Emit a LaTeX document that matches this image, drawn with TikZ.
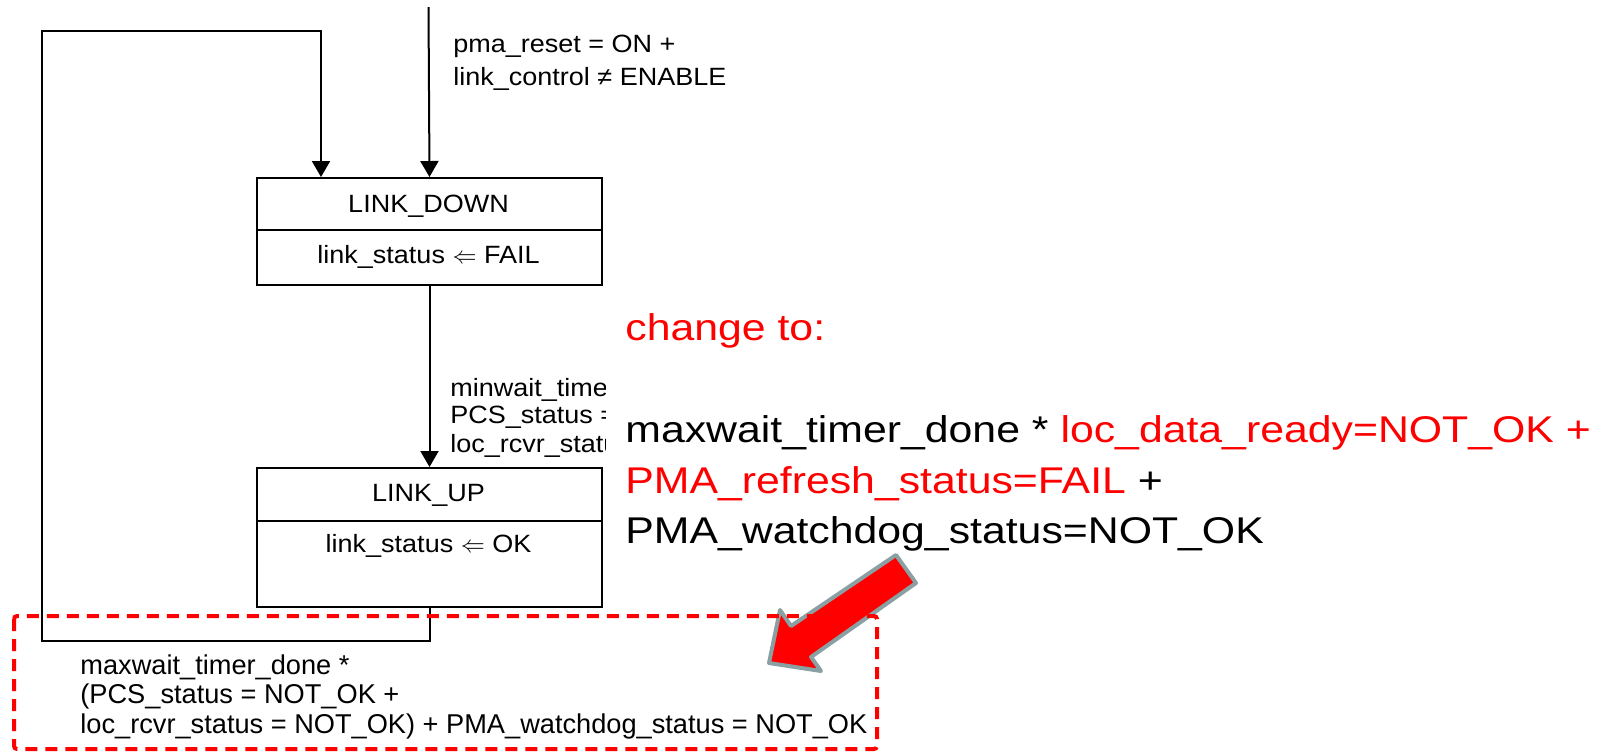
\documentclass[tikz,border=0pt]{standalone}
\usepackage{fontspec}
\setmainfont{Liberation Sans}
\newfontfamily\diagfont{Liberation Sans}[FakeStretch=1.08]
\newfontfamily\notefont{Liberation Sans}[FakeStretch=1.15]
\usetikzlibrary{arrows.meta}
\definecolor{arrowedge}{RGB}{138,160,163}

\begin{document}
\begin{tikzpicture}[x=0.5pt,y=-0.5pt,
  wire/.style={line width=1pt},
  flow/.style={wire,-{Triangle[width=9pt,length=8pt]}},
  statebox/.style={draw,line width=1pt,inner sep=0pt,anchor=north west,minimum width=172.5pt},
  dtext/.style={inner sep=0pt,anchor=base west,font=\diagfont\fontsize{12.5}{14}\selectfont},
  ctext/.style={inner sep=0pt,anchor=base,font=\diagfont\fontsize{12.5}{14}\selectfont},
  btext/.style={inner sep=0pt,anchor=base west,font=\fontsize{13.6}{15}\selectfont},
  ntext/.style={inner sep=0pt,anchor=base west,font=\notefont\fontsize{18.6}{21}\selectfont},
]
\useasboundingbox (0,0) rectangle (1605,752);

% state boxes: header and action compartments
\node[statebox,minimum height=26pt] (downH) at (256,177) {};
\node[statebox,minimum height=27.5pt] (downB) at (256,229) {};
\node[statebox,minimum height=26.5pt] (upH) at (256,467) {};
\node[statebox,minimum height=43pt] (upB) at (256,520) {};

\node[ctext] (downName) at (428.5,212) {LINK\_DOWN};
\node[ctext] (downAct) at (428.5,263) {link\_status $\Leftarrow$ FAIL};
\node[ctext] (upName) at (428.5,501) {LINK\_UP};
\node[ctext] (upAct) at (428.5,552) {link\_status $\Leftarrow$ OK};

% transitions
\coordinate (entry) at (428.5,7);
\draw[flow] (entry) -- (downH.north);
\draw[flow] (downB.south) -- (upH.north);

\coordinate (loopBL) at (42,641);
\coordinate (loopTL) at (42,31);
\coordinate (loopTR) at (321,31);
\draw[flow] (upB.south) |- (loopBL) -- (loopTL) -- (loopTR) -- (loopTR |- downH.north);

% transition conditions
\node[dtext] (rst1) at (453,52) {pma\_reset = ON +};
\node[dtext] (rst2) at (453,85) {link\_control ≠ ENABLE};

\begin{scope}
  \clip (440,360) rectangle (605,470);
  \node[dtext] (up1) at (450,396) {minwait\_time};
  \node[dtext] (up2) at (450,423) {PCS\_status =};
  \node[dtext] (up3) at (450,452) {loc\_rcvr\_statu};
\end{scope}

\node[btext] (cond1) at (80,674) {maxwait\_timer\_done *};
\node[btext] (cond2) at (80,703) {(PCS\_status = NOT\_OK +};
\node[btext] (cond3) at (80,733) {loc\_rcvr\_status = NOT\_OK) + PMA\_watchdog\_status = NOT\_OK};

% proposed replacement
\node[ntext,text=red] (chg) at (625,340) {change to:};
\node[ntext] (new1) at (625,442) {maxwait\_timer\_done * \textcolor{red}{loc\_data\_ready=NOT\_OK +}};
\node[ntext] (new2) at (625,493) {\textcolor{red}{PMA\_refresh\_status=FAIL} +};
\node[ntext] (new3) at (625,543) {PMA\_watchdog\_status=NOT\_OK};

% block arrow pointing at the old condition
\draw[line width=2pt,draw=arrowedge,fill=red,line join=round]
  (769,663) -- (780,610) -- (791,626) -- (896,555) -- (916,583) -- (811,657) -- (821,671) -- cycle;

% highlight frame
\draw[red,line width=2pt,dash pattern=on 6pt off 4pt,rounded corners=1.5pt]
  (14,616) rectangle (877,749);
\end{tikzpicture}
\end{document}
